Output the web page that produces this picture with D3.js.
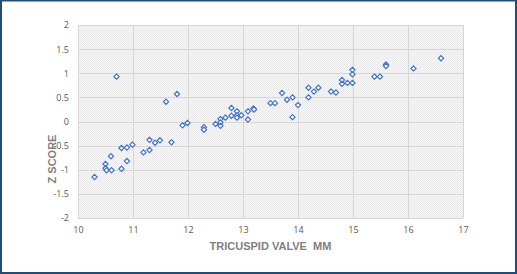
<!DOCTYPE html>
<meta charset="utf-8">
<head>
  <meta charset="UTF-8" />
  <title>Z score vs tricuspid valve</title>
  <script src="https://d3js.org/d3.v7.min.js"></script>
</head>
<style>
  body { margin: 0; background: #fff; }
  text { font-family: "Open Sans", "Liberation Sans", sans-serif; }
</style>
<div id="chart"></div>
<script>

  // tricuspid valve (mm)
  var valveMm = [10.3, 10.7, 10.5, 10.5, 10.52, 10.6, 10.61, 10.79, 10.79, 10.89,
    10.89, 10.99, 11.19, 11.3, 11.3, 11.4, 11.49, 11.6, 11.7, 11.8,
    11.9, 11.99, 12.29, 12.29, 12.5, 12.59, 12.59, 12.59, 12.68, 12.79,
    12.79, 12.89, 12.89, 12.89, 12.97, 13.09, 13.09, 13.19, 13.2, 13.5,
    13.58, 13.71, 13.8, 13.9, 13.9, 14.0, 14.19, 14.19, 14.29, 14.37,
    14.6, 14.69, 14.8, 14.8, 14.9, 14.99, 14.99, 14.99, 15.39, 15.49,
    15.6, 15.6, 16.1, 16.6]
  // z score
  var zScore = [-1.15, 0.93, -0.88, -0.97, -1.01, -0.72, -1.01, -0.55, -0.98, -0.54,
    -0.82, -0.48, -0.64, -0.38, -0.59, -0.44, -0.39, 0.41, -0.43, 0.57,
    -0.08, -0.03, -0.12, -0.17, -0.05, 0.05, -0.02, -0.09, 0.08, 0.28,
    0.12, 0.21, 0.13, 0.08, 0.13, 0.21, 0.04, 0.27, 0.25, 0.38,
    0.38, 0.59, 0.45, 0.50, 0.09, 0.34, 0.70, 0.50, 0.62, 0.70,
    0.62, 0.60, 0.86, 0.78, 0.80, 0.80, 0.98, 1.07, 0.93, 0.93,
    1.18, 1.15, 1.10, 1.31]

  var xTicks = [10, 11, 12, 13, 14, 15, 16, 17]
  var yTicks = [-2, -1.5, -1, -0.5, 0, 0.5, 1, 1.5, 2]

  var W = 517, H = 274
  var margin = {top: 25, right: 54, bottom: 56, left: 78}

  var svg = d3.select("#chart")
    .append("svg")
      .attr("width", W)
      .attr("height", H)

  // checkered plot background
  var pat = svg.append("defs").append("pattern")
    .attr("id", "chk")
    .attr("width", 2).attr("height", 2)
    .attr("patternUnits", "userSpaceOnUse")
  pat.append("rect").attr("width", 2).attr("height", 2).attr("fill", "#f6f6f6")
  pat.append("rect").attr("width", 1).attr("height", 1).attr("fill", "#e9e9e9")
  pat.append("rect").attr("x", 1).attr("y", 1).attr("width", 1).attr("height", 1).attr("fill", "#ececec")

  svg.append("rect")
    .attr("x", 1).attr("y", 0.5)
    .attr("width", W - 2).attr("height", H - 1.5)
    .attr("fill", "#fff")
    .attr("stroke", "#1f4e79")
    .attr("stroke-width", 2)

  var x = d3.scaleLinear().domain([10, 17]).range([margin.left, W - margin.right])
  var y = d3.scaleLinear().domain([-2, 2]).range([H - margin.bottom, margin.top])

  svg.append("rect")
    .attr("x", x(10)).attr("y", y(2))
    .attr("width", x(17) - x(10)).attr("height", y(-2) - y(2))
    .attr("fill", "url(#chk)")

  // gridlines
  svg.append("g")
    .selectAll("line")
    .data(xTicks)
    .join("line")
      .attr("x1", d => Math.round(x(d)) + 0.5).attr("x2", d => Math.round(x(d)) + 0.5)
      .attr("y1", y(2)).attr("y2", y(-2))
      .attr("stroke", "#d6d6d6")

  svg.append("g")
    .selectAll("line")
    .data(yTicks)
    .join("line")
      .attr("x1", x(10)).attr("x2", x(17))
      .attr("y1", d => Math.round(y(d)) + 0.5).attr("y2", d => Math.round(y(d)) + 0.5)
      .attr("stroke", "#d6d6d6")

  // axes, no domain lines
  var xAxis = svg.append("g")
    .attr("transform", "translate(0," + (y(-2) + 3) + ")")
    .call(d3.axisBottom(x).tickValues(xTicks).tickSize(0).tickPadding(6).tickFormat(d => d))
  var yAxis = svg.append("g")
    .attr("transform", "translate(" + (x(10) - 9) + ",0)")
    .call(d3.axisLeft(y).tickValues(yTicks).tickSize(0).tickPadding(0).tickFormat(d => d))
  ;[xAxis, yAxis].forEach(a => {
    a.select(".domain").remove()
    a.selectAll("text")
      .style("font-family", "Open Sans, sans-serif")
      .style("font-size", "9px")
      .attr("fill", "#595959")
  })

  // axis titles
  svg.append("text")
    .attr("x", (x(10) + x(17)) / 2)
    .attr("y", 250)
    .attr("text-anchor", "middle")
    .style("font-family", "Liberation Sans, Arial, sans-serif")
    .style("font-size", "11px")
    .style("font-weight", "bold")
    .style("white-space", "pre")
    .attr("fill", "#7f7f7f")
    .text("TRICUSPID VALVE  MM")

  svg.append("text")
    .attr("transform", "translate(56,159) rotate(-90)")
    .attr("text-anchor", "middle")
    .style("font-family", "Liberation Sans, Arial, sans-serif")
    .style("font-size", "11px")
    .style("font-weight", "bold")
    .attr("fill", "#7f7f7f")
    .text("Z SCORE")

  // diamond markers
  var pts = valveMm.map((v, i) => ({x: v, y: zScore[i]}))
  var r = 2.6
  svg.append("g")
    .selectAll("path")
    .data(pts)
    .join("path")
      .attr("d", d => {
        var cx = x(d.x), cy = y(d.y)
        return d3.line()([[cx, cy - r], [cx + r, cy], [cx, cy + r], [cx - r, cy]]) + "Z"
      })
      .attr("fill", "#fff")
      .attr("stroke", "#4472c4")
      .attr("stroke-width", 1.2)

</script>
